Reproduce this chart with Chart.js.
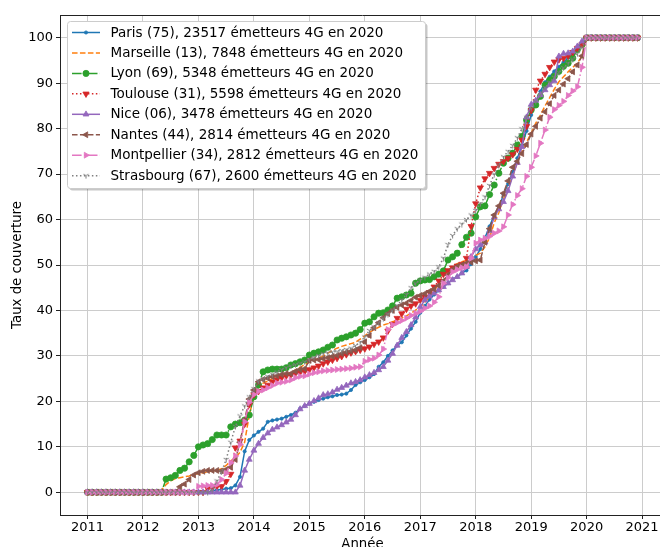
<!DOCTYPE html>
<html>
<head>
<meta charset="utf-8">
<script src="https://cdn.jsdelivr.net/npm/chart.js@4/dist/chart.umd.min.js"></script>
<style>
html,body{margin:0;padding:0;background:#fff;overflow:hidden;width:660px;height:547px;}
#wrap{width:660px;height:547px;overflow:hidden;position:relative;background:#fff;}
canvas{display:block;}
</style>
</head>
<body>
<div id="wrap"><canvas id="c" width="672" height="547"></canvas></div>
<script>
// ---------- categories (monthly, Jan 2011 .. Dec 2020) ----------
const years = [2011, 2012, 2013, 2014, 2015, 2016, 2017, 2018, 2019, 2020];
const monthsInYear = [0, 1, 2, 3, 4, 5, 6, 7, 8, 9, 10, 11];
const xTicks = [2011, 2012, 2013, 2014, 2015, 2016, 2017, 2018, 2019, 2020, 2021];
const yTicks = [0, 10, 20, 30, 40, 50, 60, 70, 80, 90, 100];

// ---------- series values (taux de couverture, %) ----------
const paris = [
  0,0,0,0,0,0,0,0,0,0,0,0, 0,0,0,0,0,0,0,0,0,0,0,0, 0,0,0,
  0.3,0.5,0.6,0.8,0.9,1.5,3.4,9,11.5,12.5,
  13.3,14,15.5,15.8,16,16.2,16.6,17,17.5,18.4,
  19,19.5,19.9,20.3,20.6,20.9,21.1,21.4,21.5,21.7,
  22.5,23.6,24.2,24.7,25.3,26,27.6,28.6,30,31.2,
  32.3,33,34.5,36,37.5,39.5,41,42.4,43.5,44.4,
  45.2,46,46.9,47.4,48.2,48.8,50.2,51.8,53.5,56,
  58.5,61,62.5,65.5,67.8,70.5,73.5,76.3,79.5,83,
  85.8,88.2,90.2,91.4,92.6,93.6,94.6,95.6,96.5,97.5,98.5,
  100,100,100,100,100,100,100,100,100,100,100,100
];
const marseille = [
  0,0,0,0,0,0,0,0,0,0,0,0, 0,0,0,0,
  0.5,1.7,2.5,3,3.2,3.4,3.6,3.9,4.1,4.3,
  4.5,4.7,4.8,5.2,5.9,6.9,7.6,8.8,11,17,
  21,23.2,24,24.5,25,25.3,25.6,25.9,26.3,26.9,
  27.5,28.1,28.6,29,29.4,30,30.6,31.2,31.7,32.1,
  32.4,32.7,33,33.7,34.4,35.2,35.8,36.3,36.8,37.1,
  37.5,37.8,38.3,38.8,39.4,40.1,40.8,41.8,43,44.3,
  46,47.6,48.6,49.7,50.3,50.7,51,51.4,52.1,52.6,
  54,56,59.3,61.5,64.5,67,69.5,72.5,75,77,
  79,81.2,83,85,86.8,88.7,90.3,91.4,92.5,93.5,
  94.4,96,
  100,100,100,100,100,100,100,100,100,100,100,100
];
const lyon = [
  0,0,0,0,0,0,0,0,0,0,0,0, 0,0,0,0,0,
  2.9,3.2,3.7,4.8,5.3,6.7,8.1,10,10.4,10.7,
  11.6,12.6,12.6,12.6,14.4,15,15.3,15.9,17,21,
  23.6,26.5,26.9,27.1,27.1,27.1,27.4,28,28.3,28.7,
  29.1,30.2,30.6,30.9,31.3,31.9,32.4,33.5,33.9,34.2,
  34.6,35,35.8,37.2,37.5,38.6,39.4,39.5,40.1,41,
  42.7,43,43.4,43.8,46,46.5,46.7,46.8,47.4,48,
  48.7,51.1,51.8,52.6,54.5,56.1,57,60.6,62.8,63,
  65.5,67.6,70.2,72.4,73.5,74.6,76.4,78.3,81.9,84.1,
  85.2,87.1,89.6,90.7,91.5,92.6,93.7,94.4,95.5,97.4,98.5,
  100,100,100,100,100,100,100,100,100,100,100,100
];
const toulouse = [
  0,0,0,0,0,0,0,0,0,0,0,0, 0,0,0,0,0,0,0,0,0,0,0,0, 0,0,
  0.8,1,1.3,1.3,2.4,4,9.8,11.3,15,19.3,
  21.5,22.2,23,23.6,24.3,24.8,25.2,25.6,25.9,26.2,
  26.4,26.6,27,27.4,27.8,28.3,28.7,29.1,29.5,29.9,
  30.3,30.7,31,31.3,31.6,32,32.6,33.1,34,35.5,
  37,38.3,39.3,40.3,41,41.5,42.3,43,44,45.2,
  46.5,48,48.8,49.4,49.8,50.2,51.5,58.5,63.5,67,
  69,70.2,71.3,72.2,72.8,73.5,74.3,75.5,77.5,80.5,
  84,88.5,90.5,92,93.5,94.7,95.2,95.5,96,96.8,97.7,98.5,
  100,100,100,100,100,100,100,100,100,100,100,100
];
const nice = [
  0,0,0,0,0,0,0,0,0,0,0,0, 0,0,0,0,0,0,0,0,0,0,0,0, 0,0,0,0,0,0,0,0,0,
  1.5,4.8,7.2,9.2,10.7,12,13,13.8,14.3,14.8,
  15.4,16,17,18.3,19,19.5,20.1,20.7,21.4,21.6,
  22,22.6,23,23.5,24,24.3,24.7,25.3,25.8,26.3,
  26.9,27.6,29,30.5,32.3,34,35.3,36.8,38.5,40.8,
  42.3,43.1,43.8,44.5,45.2,46,46.7,47.4,48.2,49.6,
  51.8,53.5,54.4,55,57.5,60.5,62.3,63.9,66.3,69.5,
  72.5,76,82.5,85.3,86.2,87.4,88.5,89.6,90.5,95.9,
  96.5,96.6,97,98.1,99.2,
  100,100,100,100,100,100,100,100,100,100,100,100
];
const nantes = [
  0,0,0,0,0,0,0,0,0,0,0,0, 0,0,0,0,0,0,0,0,
  1.2,1.8,2.8,3.8,4.3,4.6,4.8,4.8,4.8,4.7,
  5,5.5,7.2,11,16,20.5,22.5,24.3,24.8,25.1,
  25.4,25.6,25.9,26.1,26.1,26.6,27,27.2,29,29.1,
  29.2,29.4,29.6,29.9,30.1,30.5,30.8,31,31.3,31.8,
  33.1,34.5,36.2,37.3,38.4,39.3,40,40.7,41.2,41.6,
  42.2,42.9,43.3,43.7,44.2,44.7,45.5,46.5,47.8,49,
  49.7,50,50.4,50.6,50.9,51.1,55,58,61,63,
  65.8,68.5,71.5,72.8,74.5,76.5,78.8,80.5,82.3,83.7,
  85.5,87.3,88.5,89.8,91,92.5,94,96,
  100,100,100,100,100,100,100,100,100,100,100,100
];
const montpellier = [
  0,0,0,0,0,0,0,0,0,0,0,0, 0,0,0,0,0,0,0,0,0,0,0,0,
  1.3,1.4,1.5,1.5,1.7,2.8,4.2,6.5,8,10.5,
  15.5,19.8,21.5,22.2,22.5,23,23.5,24,24.2,24.4,
  24.7,25.2,25.5,25.6,26,26.3,26.5,26.7,26.8,26.9,
  27,27.1,27.2,27.3,27.5,27.6,28.8,29.2,29.5,30.2,
  31.5,35.8,36.8,37.3,37.8,38.3,38.9,39.4,39.8,40.5,
  41,41.8,43,46,47.2,48.5,49,49.4,49.6,51.5,
  54.8,55.5,55.9,56.3,57,57.5,58.4,61,63.3,65.3,
  66.8,69.5,71.5,74,76.8,79.7,82.5,84.2,85.1,86,
  87.3,88.3,89.2,93.5,
  100,100,100,100,100,100,100,100,100,100,100,100
];
const strasbourg = [
  0,0,0,0,0,0,0,0,0,0,0,0, 0,0,0,0,0,0,0,0,0,0,0,0, 0,0,0,
  0.5,2.5,4.5,7.2,11,14.5,16.8,19,21,22.8,
  24.5,25,25.5,26,26.5,27,27.4,27.8,28.1,28.4,
  28.7,29.2,29.7,30.1,30.5,30.7,30.9,31,31.2,31.4,
  31.7,32.3,33,34.2,35.6,36.4,37.3,38.3,39.2,40.1,
  41.1,42.3,43.5,45,46,46.7,47.3,48,48.6,49.6,
  51.5,54.5,56.5,58,59,60,61,62,63.5,65,
  67.5,70,72,73.8,75,76.3,78,80,82.5,84.5,
  86,87.5,89,90.2,91.3,92.4,93.4,94.4,95.3,96.5,98,
  100,100,100,100,100,100,100,100,100,100,100,100
];
const seriesLabels = [
  'Paris (75), 23517 émetteurs 4G en 2020',
  'Marseille (13), 7848 émetteurs 4G en 2020',
  'Lyon (69), 5348 émetteurs 4G en 2020',
  'Toulouse (31), 5598 émetteurs 4G en 2020',
  'Nice (06), 3478 émetteurs 4G en 2020',
  'Nantes (44), 2814 émetteurs 4G en 2020',
  'Montpellier (34), 2812 émetteurs 4G en 2020',
  'Strasbourg (67), 2600 émetteurs 4G en 2020'
];
const seriesValues = [paris, marseille, lyon, toulouse, nice, nantes, montpellier, strasbourg];

// ---------- build x positions (fractional year) ----------
const xMonths = [];
years.forEach(y => monthsInYear.forEach(m => xMonths.push(y + m / 12)));

// ---------- styles ----------
const FONT = "'DejaVu Sans', 'Liberation Sans', sans-serif";
const DASHED = [5.55, 2.4];
const DASHDOT = [9.6, 2.4, 1.5, 2.4];
const DOTTED = [1.5, 2.475];

function triDown(color, size) {
  const c = document.createElement('canvas');
  c.width = size; c.height = size;
  const g = c.getContext('2d');
  const m = size / 2, r = size / 2 - 0.5;
  g.strokeStyle = color; g.lineWidth = 1;
  g.beginPath();
  g.moveTo(m, m); g.lineTo(m, m + r);
  g.moveTo(m, m); g.lineTo(m - r * Math.cos(Math.PI / 6), m - r * Math.sin(Math.PI / 6));
  g.moveTo(m, m); g.lineTo(m + r * Math.cos(Math.PI / 6), m - r * Math.sin(Math.PI / 6));
  g.stroke();
  return c;
}

const styles = [
  {color: '#1f77b4', dash: [],      marker: 'circle',   rot: 0,   r: 1.6},
  {color: '#ff7f0e', dash: DASHED,  marker: 'circle',   rot: 0,   r: 0},
  {color: '#2ca02c', dash: DASHDOT, marker: 'circle',   rot: 0,   r: 3.1},
  {color: '#d62728', dash: DOTTED,  marker: 'triangle', rot: 180, r: 3.6},
  {color: '#9467bd', dash: [],      marker: 'triangle', rot: 0,   r: 3.4},
  {color: '#8c564b', dash: DASHED,  marker: 'triangle', rot: 270, r: 3.4},
  {color: '#e377c2', dash: DASHDOT, marker: 'triangle', rot: 90,  r: 3.4},
  {color: '#7f7f7f', dash: DOTTED,  marker: triDown('#7f7f7f', 7), rot: 0, r: 3}
];

const datasets = seriesValues.map((vals, i) => {
  const s = styles[i];
  return {
    label: seriesLabels[i],
    data: vals.map((v, k) => ({x: xMonths[k], y: v})),
    borderColor: s.color,
    backgroundColor: s.color,
    borderWidth: 1.5,
    borderDash: s.dash,
    pointStyle: s.marker,
    pointRotation: s.rot,
    pointRadius: s.r,
    pointBorderWidth: s.marker === 'circle' || s.marker === 'triangle' ? 0.8 : 0,
    pointBackgroundColor: s.color,
    pointBorderColor: s.color,
    pointHoverRadius: s.r,
    tension: 0,
    fill: false,
    order: seriesValues.length - i
  };
});

// ---------- custom drawing: spine, axis titles, legend ----------
function drawMarker(ctx, s, x, y) {
  if (s.r <= 0) return;
  if (typeof s.marker !== 'string') {
    ctx.drawImage(s.marker, x - s.marker.width / 2, y - s.marker.height / 2);
    return;
  }
  ctx.fillStyle = s.color; ctx.strokeStyle = s.color; ctx.lineWidth = 0.8;
  ctx.setLineDash([]);
  ctx.beginPath();
  if (s.marker === 'circle') {
    ctx.arc(x, y, s.r, 0, Math.PI * 2);
  } else {
    let rad = s.rot * Math.PI / 180;
    for (let k = 0; k < 3; k++) {
      const px = x + Math.sin(rad) * s.r, py = y - Math.cos(rad) * s.r;
      if (k === 0) ctx.moveTo(px, py); else ctx.lineTo(px, py);
      rad += 2 * Math.PI / 3;
    }
    ctx.closePath();
  }
  ctx.fill(); ctx.stroke();
}

function roundRect(ctx, x, y, w, h, r) {
  ctx.beginPath();
  ctx.moveTo(x + r, y);
  ctx.lineTo(x + w - r, y); ctx.quadraticCurveTo(x + w, y, x + w, y + r);
  ctx.lineTo(x + w, y + h - r); ctx.quadraticCurveTo(x + w, y + h, x + w - r, y + h);
  ctx.lineTo(x + r, y + h); ctx.quadraticCurveTo(x, y + h, x, y + h - r);
  ctx.lineTo(x, y + r); ctx.quadraticCurveTo(x, y, x + r, y);
  ctx.closePath();
}

const decorPlugin = {
  id: 'mplDecor',
  afterDraw(chart) {
    const ctx = chart.ctx;
    const a = chart.chartArea;
    ctx.save();
    // top and right spines
    ctx.strokeStyle = '#222'; ctx.lineWidth = 1; ctx.setLineDash([]);
    ctx.beginPath(); ctx.moveTo(a.left, Math.round(a.top) + 0.5); ctx.lineTo(a.right, Math.round(a.top) + 0.5); ctx.stroke();
    ctx.beginPath(); ctx.moveTo(Math.round(a.right) + 0.5, a.top); ctx.lineTo(Math.round(a.right) + 0.5, a.bottom); ctx.stroke();

    // axis titles
    ctx.fillStyle = '#000';
    ctx.font = '13.3px ' + FONT;
    ctx.textAlign = 'center'; ctx.textBaseline = 'alphabetic';
    ctx.fillText('Année', (a.left + a.right) / 2, 548);
    ctx.save();
    ctx.translate(20.5, (a.top + a.bottom) / 2);
    ctx.rotate(-Math.PI / 2);
    ctx.fillText('Taux de couverture', 0, 0);
    ctx.restore();

    // legend
    const lx = 67.5, ly = 21.5, lw = 358, lh = 167;
    ctx.fillStyle = 'rgba(0,0,0,0.22)';
    roundRect(ctx, lx + 2, ly + 2, lw, lh, 3); ctx.fill();
    ctx.fillStyle = '#ffffff';
    roundRect(ctx, lx, ly, lw, lh, 3); ctx.fill();
    ctx.strokeStyle = '#cccccc'; ctx.lineWidth = 1;
    ctx.stroke();
    ctx.font = '13.5px ' + FONT;
    ctx.textAlign = 'left'; ctx.textBaseline = 'middle';
    seriesLabels.forEach((lab, i) => {
      const s = styles[i];
      const y = 32.5 + i * 20.45;
      ctx.strokeStyle = s.color; ctx.lineWidth = 1.5;
      ctx.setLineDash(s.dash);
      ctx.beginPath(); ctx.moveTo(72, y); ctx.lineTo(100, y); ctx.stroke();
      ctx.setLineDash([]);
      drawMarker(ctx, s, 86, y);
      ctx.fillStyle = '#000';
      ctx.fillText(lab, 110.5, y + 0.5);
    });
    ctx.restore();
  }
};

const tickFont = {family: FONT, size: 13};

new Chart(document.getElementById('c'), {
  type: 'line',
  data: {datasets},
  plugins: [decorPlugin],
  options: {
    responsive: false,
    animation: false,
    devicePixelRatio: 1,
    layout: {padding: {left: 0, top: 15, right: 7, bottom: 0}},
    plugins: {legend: {display: false}, tooltip: {enabled: false}, title: {display: false}},
    scales: {
      x: {
        type: 'linear',
        min: 2010.504,
        max: 2021.413,
        afterBuildTicks: s => { s.ticks = xTicks.map(v => ({value: v})); },
        afterFit: s => { s.height = 32; },
        grid: {color: '#cccccc', lineWidth: 1, drawTicks: true, tickLength: 4, tickColor: '#222', tickWidth: 1},
        border: {display: true, color: '#222', width: 1},
        ticks: {font: tickFont, color: '#000', padding: 1, maxRotation: 0, autoSkip: false,
                callback: v => String(v)},
        title: {display: false}
      },
      y: {
        type: 'linear',
        min: -5,
        max: 105,
        afterBuildTicks: s => { s.ticks = yTicks.map(v => ({value: v})); },
        afterFit: s => { s.width = 60; },
        grid: {color: '#cccccc', lineWidth: 1, drawTicks: true, tickLength: 4, tickColor: '#222', tickWidth: 1},
        border: {display: true, color: '#222', width: 1},
        ticks: {font: tickFont, color: '#000', padding: 3, autoSkip: false,
                callback: v => String(v)},
        title: {display: false}
      }
    }
  }
});
</script>
</body>
</html>
